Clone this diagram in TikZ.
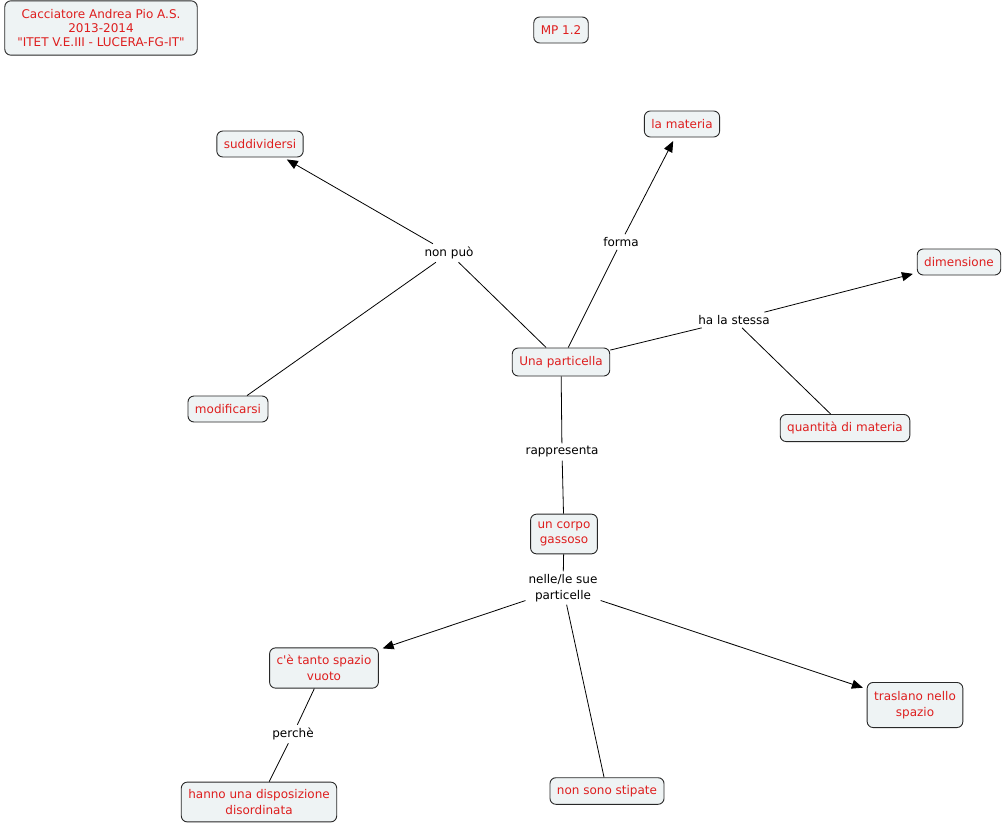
\documentclass[tikz,border=0pt]{standalone}
\usepackage{fontspec}
\newfontfamily\vf{DejaVu Sans}
\usetikzlibrary{arrows.meta}
\definecolor{boxfill}{RGB}{238,243,244}
\definecolor{boxline}{RGB}{40,40,40}
\definecolor{ctext}{RGB}{222,30,30}
\tikzset{
  concept/.style={draw=boxline, line width=0.9pt, fill=boxfill, rounded corners=6pt,
    text=ctext, font=\vf\fontsize{12}{15.5}\selectfont, align=center,
    inner xsep=7pt, inner ysep=7.5pt, minimum height=26pt},
  linklabel/.style={text=black, font=\vf\fontsize{12}{15.5}\selectfont, align=center, inner sep=3pt},
  conn/.style={draw=black, line width=0.8pt},
  arr/.style={conn, -{Triangle[length=11pt,width=9pt]}, shorten >=4pt}
}
\begin{document}
\begin{tikzpicture}[x=1pt,y=-1pt]
\path[use as bounding box, fill=white] (0,0) rectangle (1003,825);
% concepts
\node[concept, font=\vf\fontsize{12}{14}\selectfont, inner xsep=12.5pt, inner ysep=8.5pt] (title) at (101,28) {Cacciatore Andrea Pio A.S.\\2013-2014\\"ITET V.E.III - LUCERA-FG-IT"};
\node[concept] (mp) at (561,30) {MP 1.2};
\node[concept] (sudd) at (260,144) {suddividersi};
\node[concept] (mat) at (682,124) {la materia};
\node[concept] (dim) at (959,262) {dimensione};
\node[concept, minimum height=28pt] (part) at (561,362) {Una particella};
\node[concept] (modif) at (228,409) {modificarsi};
\node[concept] (quant) at (845,428) {quantità di materia};
\node[concept] (corpo) at (564,534) {un corpo\\gassoso};
\node[concept] (vuoto) at (324,668) {c'è tanto spazio\\vuoto};
\node[concept, inner ysep=9pt] (trasl) at (915,705) {traslano nello\\spazio};
\node[concept] (hanno) at (259,802) {hanno una disposizione\\disordinata};
\node[concept] (stip) at (607,791) {non sono stipate};
% link labels
\node[linklabel] (nonpuo) at (449,253) {non può};
\node[linklabel] (forma) at (621,242) {forma};
\node[linklabel] (hals) at (734,320) {ha la stessa};
\node[linklabel] (rapp) at (562,452) {rappresenta};
\node[linklabel] (nelle) at (563,588) {nelle/le sue\\particelle};
\node[linklabel] (perche) at (293,734) {perchè};
% connectors
\draw[conn] (part) -- (nonpuo);
\draw[arr] (nonpuo) -- (sudd);
\draw[conn] (modif) -- (nonpuo);
\draw[conn] (part) -- (forma);
\draw[arr] (forma) -- (mat);
\draw[conn] (part) -- (hals);
\draw[arr] (hals) -- (dim);
\draw[conn] (quant) -- (hals);
\draw[conn] (part) -- (rapp);
\draw[conn] (rapp) -- (corpo);
\draw[conn] (corpo) -- (nelle);
\draw[arr] (nelle) -- (vuoto);
\draw[arr] (nelle) -- (trasl);
\draw[conn] (nelle) -- (stip);
\draw[conn] (vuoto) -- (perche);
\draw[conn] (perche) -- (hanno);
\end{tikzpicture}
\end{document}
